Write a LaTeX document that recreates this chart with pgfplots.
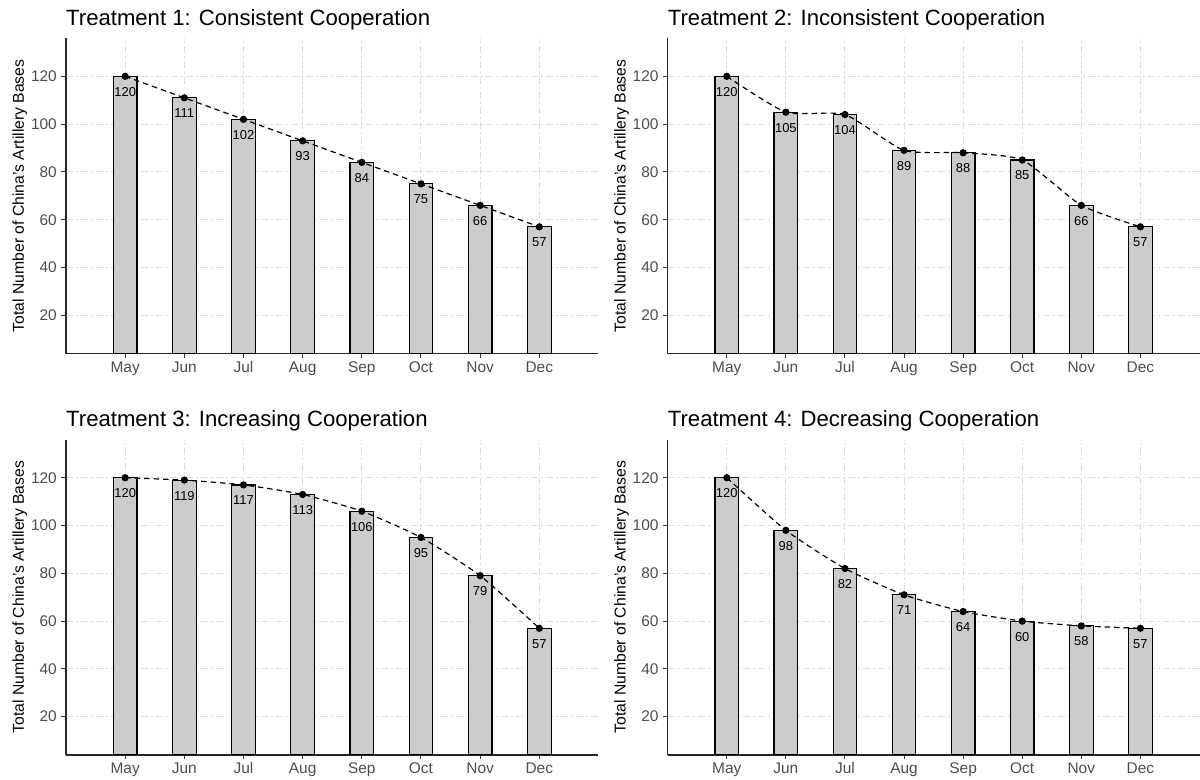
\documentclass[border=0pt]{standalone}
\usepackage{pgfplots}
\pgfplotsset{compat=1.18}
\usepackage{fontspec}
\setmainfont{Liberation Sans}
\definecolor{tickgray}{HTML}{4D4D4D}
\definecolor{gridgray}{HTML}{DEDEDE}
\definecolor{barfill}{HTML}{CCCCCC}
\pgfplotsset{
  panel/.style={
    scale only axis,
    width=532.5bp, height=315.4bp,
    xmin=0, xmax=9, ymin=4, ymax=136,
    axis x line*=bottom, axis y line*=left,
    axis line style={-, line width=1.3bp, black!85},
    xtick={1,...,8},
    xticklabels={May,Jun,Jul,Aug,Sep,Oct,Nov,Dec},
    ytick={20,40,...,120},
    tick align=outside,
    major tick length=4.5bp,
    tick style={line width=1bp, black!80},
    ticklabel style={font=\fontsize{15.5}{18}\selectfont, text=tickgray, inner sep=0pt},
    yticklabel style={xshift=-4.5bp},
    xticklabel style={yshift=-3bp, text height=11.2bp, text depth=3.5bp},
    /pgf/number format/assume math mode=true,
    grid=major,
    major grid style={gridgray, line width=1bp, dash pattern=on 7bp off 3bp on 2bp off 3bp},
    title style={at={(0,1)}, anchor=base west, yshift=7bp, inner sep=0pt,
      font=\fontsize{22.2}{26}\selectfont},
    ylabel={Total Number of China's Artillery Bases},
    ylabel style={at={(axis description cs:-0.079,0.5)}, anchor=base, rotate=0, inner sep=0pt,
      font=\fontsize{15.8}{18}\selectfont},
    clip=true,
  },
  barplot/.style={ybar, bar width=0.4, fill=barfill, draw=black, line width=1.2bp,
    nodes near coords,
    every node near coord/.append style={anchor=center, yshift=-15.5bp,
      font=\fontsize{13}{15}\selectfont, text=black, inner sep=0pt}},
  lineplot/.style={smooth, tension=0.35, black, line width=1.2bp, dash pattern=on 5.5bp off 4bp,
    mark=*, mark size=3bp, mark options={solid, fill=black}},
}
\begin{document}
\begin{tikzpicture}
\useasboundingbox (0,0) rectangle (1200bp,-780bp);
% Panel 1
\begin{axis}[panel, at={(66bp,-38.1bp)}, anchor=north west,
  title={Treatment 1: Consistent Cooperation}]
\addplot[barplot] coordinates {(1,120) (2,111) (3,102) (4,93) (5,84) (6,75) (7,66) (8,57)};
\addplot[lineplot] coordinates {(1,120) (2,111) (3,102) (4,93) (5,84) (6,75) (7,66) (8,57)};
\end{axis}
% Panel 2
\begin{axis}[panel, width=531.8bp, at={(667.7bp,-38.1bp)}, anchor=north west,
  title={Treatment 2: Inconsistent Cooperation}]
\addplot[barplot] coordinates {(1,120) (2,105) (3,104) (4,89) (5,88) (6,85) (7,66) (8,57)};
\addplot[lineplot] coordinates {(1,120) (2,105) (3,104) (4,89) (5,88) (6,85) (7,66) (8,57)};
\end{axis}
% Panel 3
\begin{axis}[panel, at={(66bp,-439.5bp)}, anchor=north west,
  title={Treatment 3: Increasing Cooperation}]
\addplot[barplot] coordinates {(1,120) (2,119) (3,117) (4,113) (5,106) (6,95) (7,79) (8,57)};
\addplot[lineplot] coordinates {(1,120) (2,119) (3,117) (4,113) (5,106) (6,95) (7,79) (8,57)};
\end{axis}
% Panel 4
\begin{axis}[panel, width=531.8bp, at={(667.7bp,-439.5bp)}, anchor=north west,
  title={Treatment 4: Decreasing Cooperation}]
\addplot[barplot] coordinates {(1,120) (2,98) (3,82) (4,71) (5,64) (6,60) (7,58) (8,57)};
\addplot[lineplot] coordinates {(1,120) (2,98) (3,82) (4,71) (5,64) (6,60) (7,58) (8,57)};
\end{axis}
\end{tikzpicture}
\end{document}
